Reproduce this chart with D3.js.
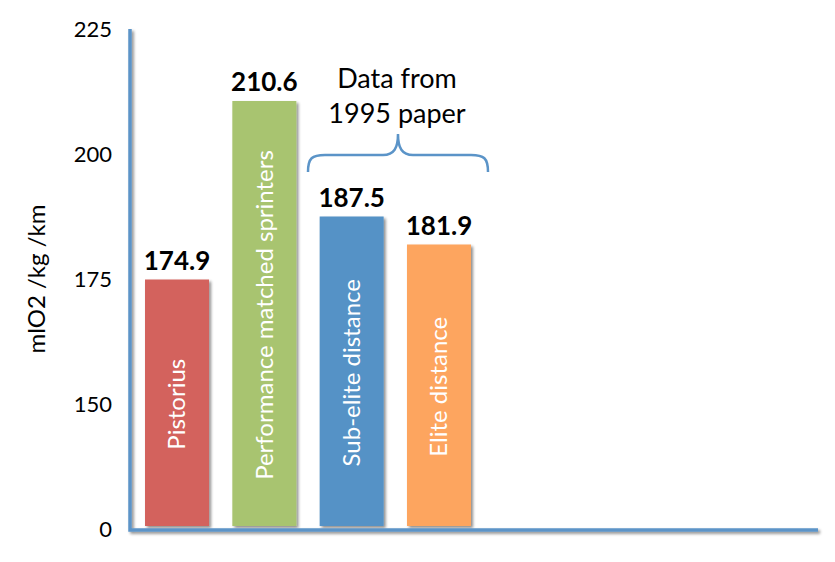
<!DOCTYPE html>
<html>
<head>
<meta charset="utf-8">
<script src="https://cdn.jsdelivr.net/npm/d3@7"></script>
<style>
  body { margin: 0; background: #fff; }
  text { font-family: Lato, "Open Sans", sans-serif; }
</style>
</head>
<body>
<div id="chart"></div>
<script>
(function() {
  var svg, y, x, bars, categories, values, colors, tickValues, tickLabels, W, H, axisColor, brace;

  W = 835;
  H = 562;

  categories = ["Pistorius", "Performance matched sprinters", "Sub-elite distance", "Elite distance"];
  values = [174.9, 210.6, 187.5, 181.9];
  colors = ["#d3625d", "#a8c46f", "#5592c6", "#fda55f"];

  // broken axis: the bottom tick is labelled 0 but sits where 125 would be
  tickValues = [125, 150, 175, 200, 225];
  tickLabels = ["0", "150", "175", "200", "225"];

  axisColor = "#5b94c8";

  svg = d3.select("#chart").append("svg").attr("width", W).attr("height", H);

  var defs = svg.append("defs");
  var f = defs.append("filter").attr("id", "shadow").attr("x", "-10%").attr("y", "-10%").attr("width", "130%").attr("height", "130%");
  f.append("feGaussianBlur").attr("in", "SourceAlpha").attr("stdDeviation", 1.5);
  f.append("feOffset").attr("dx", 2).attr("dy", 2).attr("result", "off");
  f.append("feComponentTransfer").append("feFuncA").attr("type", "linear").attr("slope", 0.45);
  var m = f.append("feMerge");
  m.append("feMergeNode");
  m.append("feMergeNode").attr("in", "SourceGraphic");

  y = d3.scaleLinear().domain([125, 225]).range([529, 29]);
  x = d3.scaleBand().domain(categories).range([130, 486]).paddingInner(0.267).paddingOuter(0.172);

  // tick labels
  svg.selectAll("text.tick").data(tickValues).enter().append("text")
    .attr("class", "tick")
    .attr("x", 112).attr("y", function(d) { return y(d); })
    .attr("dy", "0.35em")
    .attr("text-anchor", "end")
    .style("font-size", "22px")
    .style("fill", "#000")
    .text(function(d, i) { return tickLabels[i]; });

  svg.append("text")
    .attr("transform", "translate(37," + 279 + ") rotate(-90)")
    .attr("text-anchor", "middle")
    .attr("dy", "0.35em")
    .style("font-size", "24px")
    .text("mlO2 /kg /km");

  // bars
  bars = svg.selectAll("g.bar").data(categories).enter().append("g").attr("class", "bar");
  bars.append("rect")
    .attr("x", function(d) { return x(d); })
    .attr("y", function(d, i) { return y(values[i]); })
    .attr("width", x.bandwidth())
    .attr("height", function(d, i) { return y(125) - 3 - y(values[i]); })
    .style("fill", function(d, i) { return colors[i]; })
    .attr("filter", "url(#shadow)");

  bars.append("text")
    .attr("transform", function(d, i) {
      var cy = (y(values[i]) + y(125)) / 2;
      return "translate(" + (x(d) + x.bandwidth() / 2) + "," + cy + ") rotate(-90)";
    })
    .attr("text-anchor", "middle")
    .attr("dy", "0.35em")
    .style("font-size", "24px")
    .style("fill", "#fff")
    .text(function(d) { return d; });

  bars.append("text")
    .attr("x", function(d) { return x(d) + x.bandwidth() / 2; })
    .attr("y", function(d, i) { return y(values[i]) - 10; })
    .attr("text-anchor", "middle")
    .style("font-size", "26px")
    .style("font-weight", "bold")
    .text(function(d, i) { return values[i].toFixed(1); });

  // axes
  svg.append("path")
    .attr("d", "M130," + y(225) + "V" + (y(125) + 1) + "H818")
    .attr("fill", "none")
    .attr("stroke", axisColor)
    .attr("stroke-width", 3.5)
    .attr("filter", "url(#shadow)");

  // brace over the 1995 bars
  brace = "M308,172 C308,158 312,155 325,155 L383,155 C394,155 398,148 398,134 " +
          "C398,148 402,155 413,155 L471,155 C484,155 488,158 488,172";
  svg.append("path")
    .attr("d", brace)
    .attr("fill", "none")
    .attr("stroke", axisColor)
    .attr("stroke-width", 2.5);

  svg.append("text").attr("x", 397).attr("y", 88).attr("text-anchor", "middle")
    .style("font-size", "27px").text("Data from");
  svg.append("text").attr("x", 397).attr("y", 123).attr("text-anchor", "middle")
    .style("font-size", "27px").text("1995 paper");
}).call(this);
</script>
</body>
</html>
